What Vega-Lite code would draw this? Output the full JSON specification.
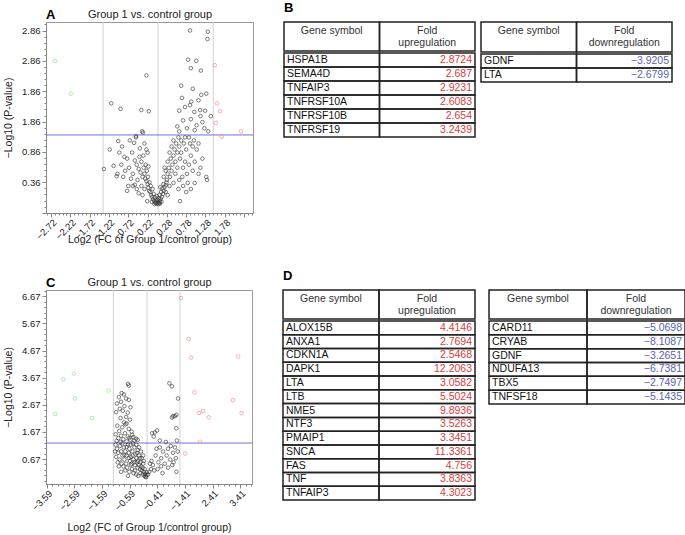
{
  "$schema": "https://vega.github.io/schema/vega-lite/v6.json",
  "padding": {"left": 3, "top": 2, "right": 0, "bottom": 0},
  "background": "white",
  "config": {
    "font": "Liberation Sans",
    "view": {"stroke": null},
    "axis": {"labelFontSize": 9.5, "titleFontSize": 10.5, "titleFontWeight": "normal", "domainColor": "#888", "tickColor": "#888", "labelColor": "#222", "titleColor": "#222", "tickSize": 4, "grid": false, "labelOverlap": false, "labelBound": false},
    "title": {"fontSize": 13, "fontWeight": "bold", "anchor": "start", "color": "#000"}
  },
  "datasets": {
    "a_grid": [{"x": -1.37}, {"x": 0.05}, {"x": 1.48}],
    "a_thr": [{"y": 1.14}],
    "c_grid": [{"x": -1.18}, {"x": 0.04}, {"x": 1.23}],
    "c_thr": [{"y": 1.26}],
    "a_pts": [
      {"x": -0.02, "y": 0.02, "g": "n"}, {"x": 0.02, "y": 0.01, "g": "n"}, {"x": 0.05, "y": 0.03, "g": "n"}, {"x": 0.08, "y": 0.02, "g": "n"}, {"x": -0.05, "y": 0.05, "g": "n"}, {"x": 0.0, "y": 0.06, "g": "n"}, {"x": 0.04, "y": 0.07, "g": "n"}, {"x": 0.1, "y": 0.05, "g": "n"}, {"x": -0.08, "y": 0.08, "g": "n"}, {"x": 0.07, "y": 0.1, "g": "n"},
      {"x": 0.12, "y": 0.09, "g": "n"}, {"x": -0.1, "y": 0.12, "g": "n"}, {"x": -0.03, "y": 0.11, "g": "n"}, {"x": 0.02, "y": 0.13, "g": "n"}, {"x": 0.15, "y": 0.12, "g": "n"}, {"x": -0.13, "y": 0.15, "g": "n"}, {"x": 0.09, "y": 0.15, "g": "n"}, {"x": -0.06, "y": 0.17, "g": "n"}, {"x": 0.18, "y": 0.17, "g": "n"}, {"x": -0.15, "y": 0.2, "g": "n"},
      {"x": 0.13, "y": 0.2, "g": "n"}, {"x": 0.0, "y": 0.03, "g": "n"}, {"x": 0.06, "y": 0.0, "g": "n"}, {"x": -0.04, "y": 0.0, "g": "n"}, {"x": 0.1, "y": 0.01, "g": "n"}, {"x": -0.11, "y": 0.04, "g": "n"}, {"x": 0.14, "y": 0.04, "g": "n"}, {"x": -0.18, "y": 0.22, "g": "n"}, {"x": 0.2, "y": 0.22, "g": "n"}, {"x": -0.09, "y": 0.25, "g": "n"},
      {"x": 0.16, "y": 0.26, "g": "n"}, {"x": -0.2, "y": 0.27, "g": "n"}, {"x": 0.22, "y": 0.28, "g": "n"}, {"x": -0.14, "y": 0.3, "g": "n"}, {"x": 0.25, "y": 0.31, "g": "n"}, {"x": 0.19, "y": 0.33, "g": "n"}, {"x": -0.22, "y": 0.33, "g": "n"}, {"x": 0.11, "y": 0.28, "g": "n"}, {"x": -0.17, "y": 0.36, "g": "n"}, {"x": 0.27, "y": 0.36, "g": "n"},
      {"x": -0.25, "y": 0.38, "g": "n"}, {"x": -0.28, "y": 0.42, "g": "n"}, {"x": -0.21, "y": 0.45, "g": "n"}, {"x": -0.3, "y": 0.5, "g": "n"}, {"x": -0.35, "y": 0.45, "g": "n"}, {"x": -0.24, "y": 0.55, "g": "n"}, {"x": -0.4, "y": 0.52, "g": "n"}, {"x": -0.32, "y": 0.6, "g": "n"}, {"x": -0.45, "y": 0.58, "g": "n"}, {"x": -0.27, "y": 0.65, "g": "n"},
      {"x": -0.38, "y": 0.7, "g": "n"}, {"x": -0.5, "y": 0.65, "g": "n"}, {"x": -0.43, "y": 0.78, "g": "n"}, {"x": -0.55, "y": 0.72, "g": "n"}, {"x": -0.33, "y": 0.8, "g": "n"}, {"x": -0.6, "y": 0.5, "g": "n"}, {"x": -0.48, "y": 0.4, "g": "n"}, {"x": -0.38, "y": 0.3, "g": "n"}, {"x": -0.3, "y": 0.25, "g": "n"}, {"x": -0.55, "y": 0.32, "g": "n"},
      {"x": -0.65, "y": 0.42, "g": "n"}, {"x": -0.7, "y": 0.6, "g": "n"}, {"x": -0.62, "y": 0.85, "g": "n"}, {"x": -0.75, "y": 0.75, "g": "n"}, {"x": -0.8, "y": 0.55, "g": "n"}, {"x": -0.72, "y": 0.3, "g": "n"}, {"x": -0.85, "y": 0.45, "g": "n"}, {"x": -0.9, "y": 0.65, "g": "n"}, {"x": -0.82, "y": 0.78, "g": "n"}, {"x": -0.95, "y": 0.85, "g": "n"},
      {"x": -1.0, "y": 0.5, "g": "n"}, {"x": -1.02, "y": 0.46, "g": "n"}, {"x": -1.1, "y": 0.63, "g": "n"}, {"x": -0.98, "y": 1.04, "g": "n"}, {"x": -0.57, "y": 1.01, "g": "n"}, {"x": -0.52, "y": 1.12, "g": "n"}, {"x": -0.36, "y": 1.2, "g": "n"}, {"x": -0.25, "y": 0.9, "g": "n"}, {"x": -0.22, "y": 0.85, "g": "n"}, {"x": -0.3, "y": 1.0, "g": "n"},
      {"x": -0.6, "y": 0.3, "g": "n"}, {"x": -0.75, "y": 0.22, "g": "n"}, {"x": -0.45, "y": 0.18, "g": "n"}, {"x": -0.23, "y": 0.05, "g": "n"}, {"x": -1.35, "y": 0.58, "g": "n"}, {"x": -1.2, "y": 0.9, "g": "n"}, {"x": -0.88, "y": 0.95, "g": "n"}, {"x": -0.68, "y": 1.05, "g": "n"}, {"x": -0.42, "y": 0.92, "g": "n"}, {"x": -0.2, "y": 0.62, "g": "n"},
      {"x": -0.5, "y": 0.25, "g": "n"}, {"x": -0.35, "y": 0.15, "g": "n"},
      {"x": 0.28, "y": 0.4, "g": "n"}, {"x": 0.3, "y": 0.5, "g": "n"}, {"x": 0.25, "y": 0.55, "g": "n"}, {"x": 0.33, "y": 0.6, "g": "n"}, {"x": 0.36, "y": 0.45, "g": "n"}, {"x": 0.4, "y": 0.55, "g": "n"}, {"x": 0.3, "y": 0.7, "g": "n"}, {"x": 0.38, "y": 0.75, "g": "n"}, {"x": 0.42, "y": 0.65, "g": "n"}, {"x": 0.45, "y": 0.8, "g": "n"},
      {"x": 0.35, "y": 0.85, "g": "n"}, {"x": 0.48, "y": 0.9, "g": "n"}, {"x": 0.4, "y": 0.95, "g": "n"}, {"x": 0.5, "y": 0.7, "g": "n"}, {"x": 0.52, "y": 1.0, "g": "n"}, {"x": 0.45, "y": 1.05, "g": "n"}, {"x": 0.55, "y": 0.85, "g": "n"}, {"x": 0.58, "y": 1.1, "g": "n"}, {"x": 0.6, "y": 0.95, "g": "n"}, {"x": 0.5, "y": 0.5, "g": "n"},
      {"x": 0.55, "y": 0.6, "g": "n"}, {"x": 0.62, "y": 0.75, "g": "n"}, {"x": 0.65, "y": 0.85, "g": "n"}, {"x": 0.7, "y": 0.6, "g": "n"}, {"x": 0.68, "y": 0.45, "g": "n"}, {"x": 0.6, "y": 0.4, "g": "n"}, {"x": 0.75, "y": 0.7, "g": "n"}, {"x": 0.78, "y": 0.9, "g": "n"}, {"x": 0.72, "y": 1.0, "g": "n"}, {"x": 0.8, "y": 0.5, "g": "n"},
      {"x": 0.85, "y": 0.65, "g": "n"}, {"x": 0.9, "y": 0.8, "g": "n"}, {"x": 0.82, "y": 0.35, "g": "n"}, {"x": 0.95, "y": 0.55, "g": "n"}, {"x": 1.0, "y": 0.7, "g": "n"}, {"x": 1.05, "y": 0.9, "g": "n"}, {"x": 0.98, "y": 1.05, "g": "n"}, {"x": 1.1, "y": 0.5, "g": "n"}, {"x": 1.15, "y": 0.6, "g": "n"}, {"x": 1.2, "y": 0.75, "g": "n"},
      {"x": 1.3, "y": 0.45, "g": "n"}, {"x": 1.32, "y": 0.4, "g": "n"}, {"x": 0.7, "y": 0.3, "g": "n"}, {"x": 0.58, "y": 0.25, "g": "n"}, {"x": 0.45, "y": 0.35, "g": "n"}, {"x": 0.35, "y": 0.3, "g": "n"}, {"x": 0.25, "y": 0.2, "g": "n"}, {"x": 0.3, "y": 0.15, "g": "n"}, {"x": 0.9, "y": 0.25, "g": "n"}, {"x": 1.0, "y": 0.35, "g": "n"},
      {"x": 0.2, "y": 0.45, "g": "n"}, {"x": 0.22, "y": 0.6, "g": "n"}, {"x": 0.65, "y": 1.05, "g": "n"}, {"x": 0.75, "y": 1.1, "g": "n"}, {"x": 0.88, "y": 1.0, "g": "n"}, {"x": 0.78, "y": 0.2, "g": "n"}, {"x": 0.62, "y": 0.05, "g": "n"}, {"x": 1.1, "y": 1.0, "g": "n"}, {"x": 0.95, "y": 0.95, "g": "n"}, {"x": 0.85, "y": 1.1, "g": "n"},
      {"x": 0.88, "y": 2.86, "g": "n"}, {"x": 1.34, "y": 2.84, "g": "n"}, {"x": 1.33, "y": 2.72, "g": "n"}, {"x": 0.83, "y": 2.38, "g": "n"}, {"x": 1.04, "y": 2.36, "g": "n"}, {"x": 0.9, "y": 2.24, "g": "n"}, {"x": 1.16, "y": 2.2, "g": "n"}, {"x": 0.67, "y": 1.75, "g": "n"}, {"x": 0.91, "y": 1.69, "g": "n"}, {"x": 1.1, "y": 1.71, "g": "n"},
      {"x": 1.17, "y": 1.8, "g": "n"}, {"x": 1.3, "y": 1.82, "g": "n"}, {"x": 0.6, "y": 1.54, "g": "n"}, {"x": 0.88, "y": 1.63, "g": "n"}, {"x": 0.99, "y": 1.52, "g": "n"}, {"x": 1.14, "y": 1.55, "g": "n"}, {"x": 1.27, "y": 1.54, "g": "n"}, {"x": 1.42, "y": 1.45, "g": "n"}, {"x": 0.65, "y": 1.95, "g": "n"}, {"x": 0.95, "y": 1.9, "g": "n"},
      {"x": 1.2, "y": 1.35, "g": "n"}, {"x": 1.05, "y": 1.3, "g": "n"}, {"x": 0.8, "y": 1.25, "g": "n"}, {"x": 0.7, "y": 1.38, "g": "n"}, {"x": 0.55, "y": 1.28, "g": "n"}, {"x": 1.35, "y": 1.2, "g": "n"}, {"x": 0.9, "y": 1.4, "g": "n"}, {"x": 1.25, "y": 1.25, "g": "n"}, {"x": 0.75, "y": 1.6, "g": "n"}, {"x": 1.15, "y": 1.45, "g": "n"},
      {"x": 0.6, "y": 1.2, "g": "n"}, {"x": 1.0, "y": 1.22, "g": "n"},
      {"x": -0.25, "y": 2.12, "g": "n"}, {"x": -1.16, "y": 1.66, "g": "n"}, {"x": -0.92, "y": 1.57, "g": "n"}, {"x": -0.38, "y": 1.55, "g": "n"}, {"x": -0.19, "y": 1.53, "g": "n"}, {"x": -0.34, "y": 1.18, "g": "n"}, {"x": -0.52, "y": 1.1, "g": "n"},
      {"x": -2.62, "y": 2.36, "g": "down"}, {"x": -2.21, "y": 1.82, "g": "down"},
      {"x": 1.52, "y": 2.29, "g": "up"}, {"x": 1.58, "y": 1.66, "g": "up"}, {"x": 1.66, "y": 1.53, "g": "up"}, {"x": 1.55, "y": 1.34, "g": "up"}, {"x": 1.7, "y": 1.11, "g": "up"}, {"x": 2.2, "y": 1.2, "g": "up"}
    ],
    "c_pts": [
      {"x": -0.65, "y": 3.44, "g": "n"}, {"x": -0.62, "y": 3.38, "g": "n"}, {"x": -0.88, "y": 3.1, "g": "n"}, {"x": -0.8, "y": 3.05, "g": "n"}, {"x": -0.98, "y": 2.95, "g": "n"}, {"x": -0.72, "y": 2.9, "g": "n"}, {"x": -0.9, "y": 2.78, "g": "n"}, {"x": -1.05, "y": 2.72, "g": "n"}, {"x": -0.62, "y": 2.85, "g": "n"}, {"x": -0.78, "y": 2.62, "g": "n"},
      {"x": -0.56, "y": 2.58, "g": "n"}, {"x": -0.95, "y": 2.52, "g": "n"}, {"x": -0.84, "y": 2.45, "g": "n"}, {"x": -1.08, "y": 2.4, "g": "n"}, {"x": -0.66, "y": 2.38, "g": "n"}, {"x": -0.72, "y": 2.22, "g": "n"}, {"x": -0.92, "y": 2.18, "g": "n"}, {"x": -0.58, "y": 2.12, "g": "n"}, {"x": -0.8, "y": 2.02, "g": "n"}, {"x": -0.7, "y": 1.98, "g": "n"},
      {"x": -0.74, "y": 1.95, "g": "n"}, {"x": -1.04, "y": 1.9, "g": "n"}, {"x": -0.86, "y": 1.84, "g": "n"}, {"x": -0.62, "y": 1.78, "g": "n"}, {"x": -0.97, "y": 1.7, "g": "n"}, {"x": -0.52, "y": 1.68, "g": "n"}, {"x": -0.76, "y": 1.62, "g": "n"}, {"x": -1.1, "y": 1.58, "g": "n"}, {"x": -0.9, "y": 1.53, "g": "n"}, {"x": -0.66, "y": 1.5, "g": "n"},
      {"x": -0.46, "y": 1.48, "g": "n"}, {"x": -1.0, "y": 1.44, "g": "n"}, {"x": -0.82, "y": 1.4, "g": "n"}, {"x": -0.56, "y": 1.38, "g": "n"}, {"x": -1.06, "y": 1.34, "g": "n"}, {"x": -0.7, "y": 1.32, "g": "n"}, {"x": -0.92, "y": 1.3, "g": "n"}, {"x": -0.42, "y": 1.35, "g": "n"}, {"x": -0.6, "y": 1.45, "g": "n"}, {"x": -0.5, "y": 1.56, "g": "n"},
      {"x": -0.36, "y": 1.42, "g": "n"}, {"x": -0.3, "y": 1.38, "g": "n"},
      {"x": -1.1, "y": 1.2, "g": "n"}, {"x": -1.05, "y": 1.05, "g": "n"}, {"x": -1.0, "y": 0.9, "g": "n"}, {"x": -1.08, "y": 0.75, "g": "n"}, {"x": -0.95, "y": 1.15, "g": "n"}, {"x": -0.9, "y": 0.95, "g": "n"}, {"x": -0.85, "y": 0.8, "g": "n"}, {"x": -0.95, "y": 0.65, "g": "n"}, {"x": -1.02, "y": 0.55, "g": "n"}, {"x": -0.88, "y": 0.5, "g": "n"},
      {"x": -0.8, "y": 1.1, "g": "n"}, {"x": -0.75, "y": 0.95, "g": "n"}, {"x": -0.7, "y": 0.8, "g": "n"}, {"x": -0.78, "y": 0.65, "g": "n"}, {"x": -0.82, "y": 0.4, "g": "n"}, {"x": -0.72, "y": 0.5, "g": "n"}, {"x": -0.65, "y": 1.2, "g": "n"}, {"x": -0.6, "y": 1.05, "g": "n"}, {"x": -0.62, "y": 0.9, "g": "n"}, {"x": -0.55, "y": 0.75, "g": "n"},
      {"x": -0.68, "y": 0.35, "g": "n"}, {"x": -0.58, "y": 0.6, "g": "n"}, {"x": -0.5, "y": 0.95, "g": "n"}, {"x": -0.48, "y": 0.8, "g": "n"}, {"x": -0.52, "y": 0.5, "g": "n"}, {"x": -0.45, "y": 0.65, "g": "n"}, {"x": -0.42, "y": 1.1, "g": "n"}, {"x": -0.4, "y": 0.45, "g": "n"}, {"x": -0.38, "y": 0.85, "g": "n"}, {"x": -0.35, "y": 0.7, "g": "n"},
      {"x": -0.33, "y": 0.55, "g": "n"}, {"x": -0.3, "y": 1.0, "g": "n"}, {"x": -0.3, "y": 0.35, "g": "n"}, {"x": -0.28, "y": 0.6, "g": "n"}, {"x": -0.25, "y": 0.8, "g": "n"}, {"x": -0.25, "y": 0.45, "g": "n"}, {"x": -0.22, "y": 0.3, "g": "n"}, {"x": -0.2, "y": 0.55, "g": "n"}, {"x": -0.2, "y": 0.15, "g": "n"}, {"x": -0.18, "y": 0.4, "g": "n"},
      {"x": -0.15, "y": 0.25, "g": "n"}, {"x": -0.15, "y": 0.7, "g": "n"}, {"x": -0.12, "y": 0.1, "g": "n"}, {"x": -0.12, "y": 0.35, "g": "n"}, {"x": -0.1, "y": 0.5, "g": "n"}, {"x": -0.08, "y": 0.2, "g": "n"}, {"x": -0.06, "y": 0.05, "g": "n"}, {"x": -0.05, "y": 0.3, "g": "n"}, {"x": -0.03, "y": 0.12, "g": "n"}, {"x": -0.02, "y": 0.02, "g": "n"},
      {"x": 0.0, "y": 0.0, "g": "n"}, {"x": 0.02, "y": 0.08, "g": "n"}, {"x": 0.03, "y": 0.18, "g": "n"}, {"x": -0.4, "y": 0.25, "g": "n"}, {"x": -0.5, "y": 0.3, "g": "n"}, {"x": -0.6, "y": 0.2, "g": "n"}, {"x": -0.45, "y": 0.15, "g": "n"}, {"x": -0.35, "y": 0.1, "g": "n"}, {"x": -0.28, "y": 0.05, "g": "n"}, {"x": -0.55, "y": 1.2, "g": "n"},
      {"x": -0.47, "y": 1.25, "g": "n"}, {"x": -0.35, "y": 1.2, "g": "n"}, {"x": -0.25, "y": 1.1, "g": "n"}, {"x": -0.85, "y": 1.25, "g": "n"}, {"x": -1.12, "y": 0.95, "g": "n"}, {"x": -0.98, "y": 0.4, "g": "n"}, {"x": -0.75, "y": 0.25, "g": "n"}, {"x": -0.65, "y": 0.05, "g": "n"}, {"x": -0.9, "y": 0.2, "g": "n"}, {"x": -0.7, "y": 1.12, "g": "n"},
      {"x": -0.62, "y": 0.7, "g": "n"}, {"x": -0.42, "y": 0.55, "g": "n"}, {"x": -0.32, "y": 0.9, "g": "n"}, {"x": -0.18, "y": 0.95, "g": "n"}, {"x": -0.1, "y": 0.8, "g": "n"}, {"x": -0.08, "y": 0.6, "g": "n"}, {"x": -0.22, "y": 0.7, "g": "n"}, {"x": -0.55, "y": 0.45, "g": "n"}, {"x": -0.78, "y": 0.82, "g": "n"},
      {"x": 0.85, "y": 3.46, "g": "n"}, {"x": 0.94, "y": 3.35, "g": "n"}, {"x": 1.16, "y": 2.9, "g": "n"}, {"x": 1.1, "y": 2.3, "g": "n"}, {"x": 1.05, "y": 2.25, "g": "n"}, {"x": 0.98, "y": 2.25, "g": "n"}, {"x": 0.94, "y": 2.2, "g": "n"}, {"x": 1.1, "y": 1.8, "g": "n"}, {"x": 0.4, "y": 1.72, "g": "n"}, {"x": 0.32, "y": 1.65, "g": "n"},
      {"x": 0.22, "y": 1.62, "g": "n"}, {"x": 0.28, "y": 1.5, "g": "n"}, {"x": 0.5, "y": 1.35, "g": "n"}, {"x": 0.72, "y": 1.3, "g": "n"}, {"x": 1.12, "y": 1.35, "g": "n"}, {"x": 1.05, "y": 1.1, "g": "n"}, {"x": 0.98, "y": 0.9, "g": "n"}, {"x": 1.08, "y": 0.7, "g": "n"}, {"x": 0.88, "y": 0.65, "g": "n"}, {"x": 0.75, "y": 0.8, "g": "n"},
      {"x": 0.62, "y": 0.95, "g": "n"}, {"x": 0.55, "y": 0.7, "g": "n"}, {"x": 0.45, "y": 0.55, "g": "n"}, {"x": 0.35, "y": 0.8, "g": "n"}, {"x": 0.25, "y": 0.45, "g": "n"}, {"x": 0.18, "y": 0.3, "g": "n"}, {"x": 0.12, "y": 0.2, "g": "n"}, {"x": 0.08, "y": 0.1, "g": "n"}, {"x": 0.3, "y": 0.25, "g": "n"}, {"x": 0.42, "y": 0.3, "g": "n"},
      {"x": 0.55, "y": 0.4, "g": "n"}, {"x": 0.68, "y": 0.5, "g": "n"}, {"x": 0.8, "y": 0.35, "g": "n"}, {"x": 0.95, "y": 0.45, "g": "n"}, {"x": 1.1, "y": 0.2, "g": "n"}, {"x": 1.0, "y": 0.55, "g": "n"}, {"x": 0.6, "y": 0.15, "g": "n"}, {"x": 0.2, "y": 0.6, "g": "n"}, {"x": 0.15, "y": 0.5, "g": "n"}, {"x": 0.38, "y": 1.05, "g": "n"},
      {"x": 0.8, "y": 1.05, "g": "n"}, {"x": 0.5, "y": 1.1, "g": "n"}, {"x": 1.15, "y": 0.95, "g": "n"}, {"x": 0.9, "y": 1.15, "g": "n"},
      {"x": -3.28, "y": 2.33, "g": "down"}, {"x": -2.99, "y": 3.61, "g": "down"}, {"x": -2.61, "y": 3.82, "g": "down"}, {"x": -2.57, "y": 2.9, "g": "down"}, {"x": -1.95, "y": 2.18, "g": "down"}, {"x": -1.36, "y": 3.19, "g": "down"},
      {"x": 1.27, "y": 6.6, "g": "up"}, {"x": 1.55, "y": 5.09, "g": "up"}, {"x": 1.63, "y": 4.41, "g": "up"}, {"x": 3.34, "y": 4.45, "g": "up"}, {"x": 1.76, "y": 3.13, "g": "up"}, {"x": 3.15, "y": 2.84, "g": "up"}, {"x": 3.46, "y": 2.36, "g": "up"}, {"x": 1.92, "y": 2.37, "g": "up"}, {"x": 2.07, "y": 2.44, "g": "up"}, {"x": 2.27, "y": 2.21, "g": "up"},
      {"x": 1.96, "y": 1.31, "g": "up"}, {"x": 1.42, "y": 0.87, "g": "up"}
    ],
    "b_up": [
      {"gene": "HSPA1B", "fold": 2.8724}, {"gene": "SEMA4D", "fold": 2.687}, {"gene": "TNFAIP3", "fold": 2.9231}, {"gene": "TNFRSF10A", "fold": 2.6083}, {"gene": "TNFRSF10B", "fold": 2.654}, {"gene": "TNFRSF19", "fold": 3.2439}
    ],
    "b_down": [
      {"gene": "GDNF", "fold": -3.9205}, {"gene": "LTA", "fold": -2.6799}
    ],
    "d_up": [
      {"gene": "ALOX15B", "fold": 4.4146}, {"gene": "ANXA1", "fold": 2.7694}, {"gene": "CDKN1A", "fold": 2.5468}, {"gene": "DAPK1", "fold": 12.2063}, {"gene": "LTA", "fold": 3.0582}, {"gene": "LTB", "fold": 5.5024}, {"gene": "NME5", "fold": 9.8936}, {"gene": "NTF3", "fold": 3.5263}, {"gene": "PMAIP1", "fold": 3.3451}, {"gene": "SNCA", "fold": 11.3361}, {"gene": "FAS", "fold": 4.756}, {"gene": "TNF", "fold": 3.8363}, {"gene": "TNFAIP3", "fold": 4.3023}
    ],
    "d_down": [
      {"gene": "CARD11", "fold": -5.0698}, {"gene": "CRYAB", "fold": -8.1087}, {"gene": "GDNF", "fold": -3.2651}, {"gene": "NDUFA13", "fold": -6.7381}, {"gene": "TBX5", "fold": -2.7497}, {"gene": "TNFSF18", "fold": -5.1435}
    ],
    "h_up": [{"col": "g", "label": "Gene symbol"}, {"col": "f", "label": "Fold\nupregulation"}],
    "h_down": [{"col": "g", "label": "Gene symbol"}, {"col": "f", "label": "Fold\ndownregulation"}]
  },
  "vconcat": [
    {
      "hconcat": [
        {
          "title": {"text": "A", "frame": "group", "dy": 14, "offset": 0},
          "width": 207, "height": 191,
          "view": {"stroke": "#9a9a9a"},
          "resolve": {"axis": {"x": "independent"}},
          "layer": [
            {"data": {"name": "a_grid"}, "mark": {"type": "rule", "color": "#d3d3d3", "strokeWidth": 1},
             "encoding": {"x": {"field": "x", "type": "quantitative", "scale": {"domain": [-2.85, 2.51], "nice": false, "zero": false},
               "axis": {"orient": "top", "title": "Group 1 vs. control group", "labels": false, "ticks": false, "domain": false, "titlePadding": 3, "titleFontSize": 11}}}},
            {"data": {"name": "a_thr"}, "mark": {"type": "rule", "color": "#7373d9", "strokeWidth": 1},
             "encoding": {"y": {"field": "y", "type": "quantitative", "axis": {"labelOverlap": false, "values": [-0.14, -0.04, 0.06, 0.16, 0.26, 0.36, 0.46, 0.56, 0.66, 0.76, 0.86, 0.96, 1.06, 1.16, 1.26, 1.36, 1.46, 1.56, 1.66, 1.76, 1.86, 1.96, 2.06, 2.16, 2.26, 2.36, 2.46, 2.56, 2.66, 2.76, 2.86, 2.96]}}}},
            {"data": {"name": "a_pts"}, "mark": {"type": "point", "shape": "circle", "filled": false, "size": 13, "strokeWidth": 0.7, "opacity": 0.9},
             "encoding": {
               "x": {"field": "x", "type": "quantitative", "axis": {"orient": "bottom", "title": "Log2 (FC of Group 1/control group)",
                 "values": [-2.82, -2.72, -2.62, -2.52, -2.42, -2.32, -2.22, -2.12, -2.02, -1.92, -1.82, -1.72, -1.62, -1.52, -1.42, -1.32, -1.22, -1.12, -1.02, -0.92, -0.82, -0.72, -0.62, -0.52, -0.42, -0.32, -0.22, -0.12, -0.02, 0.08, 0.18, 0.28, 0.38, 0.48, 0.58, 0.68, 0.78, 0.88, 0.98, 1.08, 1.18, 1.28, 1.38, 1.48, 1.58, 1.68, 1.78, 1.88, 1.98, 2.08, 2.18, 2.28, 2.38, 2.48],
                 "labelExpr": "abs((datum.value+2.72)*2 - round((datum.value+2.72)*2)) < 0.01 && datum.value > -2.8 && datum.value < 1.9 ? format(datum.value, '.2f') : ''",
                 "tickSize": {"condition": {"test": "abs((datum.value+2.72)*2 - round((datum.value+2.72)*2)) < 0.01", "value": 4}, "value": 2},
                 "labelAngle": -45, "labelPadding": 0, "titlePadding": -6, "labelOverlap": false}},
               "y": {"field": "y", "type": "quantitative", "scale": {"domain": [-0.145, 3.0], "nice": false, "zero": false},
                 "axis": {"title": "−Log10 (P-value)",
                   "values": [-0.14, -0.04, 0.06, 0.16, 0.26, 0.36, 0.46, 0.56, 0.66, 0.76, 0.86, 0.96, 1.06, 1.16, 1.26, 1.36, 1.46, 1.56, 1.66, 1.76, 1.86, 1.96, 2.06, 2.16, 2.26, 2.36, 2.46, 2.56, 2.66, 2.76, 2.86, 2.96],
                   "labelExpr": "abs((datum.value-0.36)*2 - round((datum.value-0.36)*2)) < 0.01 && datum.value > 0.3 ? (abs(datum.value-1.36)<0.01 ? '1.86' : abs(datum.value-2.36)<0.01 ? '2.86' : format(datum.value, '.2f')) : ''",
                   "tickSize": {"condition": {"test": "abs((datum.value-0.36)*2 - round((datum.value-0.36)*2)) < 0.01", "value": 4}, "value": 2},
                   "titlePadding": 8, "labelOverlap": false}},
               "color": {"field": "g", "type": "nominal", "scale": {"domain": ["n", "up", "down"], "range": ["#333333", "#ef8585", "#86dc86"]}, "legend": null}
             }}
          ]
        },
        {
          "title": {"text": "B", "frame": "group", "offset": 6},
          "spacing": 4,
          "hconcat": [
            {"spacing": 0, "vconcat": [
              {"data": {"name": "h_up"}, "width": 191, "height": 29, "layer": [
                {"mark": {"type": "rect", "fillOpacity": 0, "stroke": "#222", "strokeWidth": 1.5},
                 "encoding": {"x": {"field": "col", "type": "nominal", "sort": null, "scale": {"domain": ["g", "f"], "paddingInner": 0, "paddingOuter": 0}, "axis": null}}},
                {"mark": {"type": "text", "lineBreak": "\n", "fontSize": 10.5, "color": "#333", "lineHeight": 12, "dy": -6},
                 "encoding": {"x": {"field": "col", "type": "nominal", "sort": null, "axis": null}, "text": {"field": "label", "type": "nominal"}}}
              ]},
              {"data": {"name": "b_up"}, "width": 191, "height": 84, "layer": [
                {"mark": {"type": "rect", "fillOpacity": 0, "stroke": "#222", "strokeWidth": 1.5},
                 "encoding": {"x": {"datum": "g", "type": "nominal", "scale": {"domain": ["g", "f"], "paddingInner": 0, "paddingOuter": 0}, "axis": null},
                   "y": {"field": "gene", "type": "nominal", "sort": null, "scale": {"paddingInner": 0, "paddingOuter": 0}, "axis": null}}},
                {"mark": {"type": "rect", "fillOpacity": 0, "stroke": "#222", "strokeWidth": 1.5},
                 "encoding": {"x": {"datum": "f", "type": "nominal"}, "y": {"field": "gene", "type": "nominal", "sort": null}}},
                {"mark": {"type": "text", "align": "left", "dx": 3, "fontSize": 10.5, "color": "#111"},
                 "encoding": {"x": {"datum": "g", "type": "nominal", "bandPosition": 0}, "y": {"field": "gene", "type": "nominal", "sort": null}, "text": {"field": "gene", "type": "nominal"}}},
                {"mark": {"type": "text", "align": "right", "dx": -3, "fontSize": 10.5, "color": "#d83c3c"},
                 "encoding": {"x": {"datum": "f", "type": "nominal", "bandPosition": 1}, "y": {"field": "gene", "type": "nominal", "sort": null}, "text": {"field": "fold", "type": "quantitative", "format": "~r"}}}
              ]}
            ]},
            {"spacing": 0, "vconcat": [
              {"data": {"name": "h_down"}, "width": 191, "height": 30, "layer": [
                {"mark": {"type": "rect", "fillOpacity": 0, "stroke": "#222", "strokeWidth": 1.5},
                 "encoding": {"x": {"field": "col", "type": "nominal", "sort": null, "scale": {"domain": ["g", "f"], "paddingInner": 0, "paddingOuter": 0}, "axis": null}}},
                {"mark": {"type": "text", "lineBreak": "\n", "fontSize": 10.5, "color": "#333", "lineHeight": 12, "dy": -6},
                 "encoding": {"x": {"field": "col", "type": "nominal", "sort": null, "axis": null}, "text": {"field": "label", "type": "nominal"}}}
              ]},
              {"data": {"name": "b_down"}, "width": 191, "height": 28, "layer": [
                {"mark": {"type": "rect", "fillOpacity": 0, "stroke": "#222", "strokeWidth": 1.5},
                 "encoding": {"x": {"datum": "g", "type": "nominal", "scale": {"domain": ["g", "f"], "paddingInner": 0, "paddingOuter": 0}, "axis": null},
                   "y": {"field": "gene", "type": "nominal", "sort": null, "scale": {"paddingInner": 0, "paddingOuter": 0}, "axis": null}}},
                {"mark": {"type": "rect", "fillOpacity": 0, "stroke": "#222", "strokeWidth": 1.5},
                 "encoding": {"x": {"datum": "f", "type": "nominal"}, "y": {"field": "gene", "type": "nominal", "sort": null}}},
                {"mark": {"type": "text", "align": "left", "dx": 3, "fontSize": 10.5, "color": "#111"},
                 "encoding": {"x": {"datum": "g", "type": "nominal", "bandPosition": 0}, "y": {"field": "gene", "type": "nominal", "sort": null}, "text": {"field": "gene", "type": "nominal"}}},
                {"mark": {"type": "text", "align": "right", "dx": -3, "fontSize": 10.5, "color": "#5b5fb5"},
                 "encoding": {"x": {"datum": "f", "type": "nominal", "bandPosition": 1}, "y": {"field": "gene", "type": "nominal", "sort": null}, "text": {"field": "fold", "type": "quantitative", "format": "~r"}}}
              ]}
            ]}
          ]
        }
      ],
      "spacing": 23
    },
    {
      "hconcat": [
        {
          "title": {"text": "C", "frame": "group", "dy": 14, "offset": 0},
          "width": 206, "height": 194,
          "view": {"stroke": "#9a9a9a"},
          "resolve": {"axis": {"x": "independent"}},
          "layer": [
            {"data": {"name": "c_grid"}, "mark": {"type": "rule", "color": "#d3d3d3", "strokeWidth": 1},
             "encoding": {"x": {"field": "x", "type": "quantitative", "scale": {"domain": [-3.62, 3.84], "nice": false, "zero": false},
               "axis": {"orient": "top", "title": "Group 1 vs. control group", "labels": false, "ticks": false, "domain": false, "titlePadding": 3, "titleFontSize": 11}}}},
            {"data": {"name": "c_thr"}, "mark": {"type": "rule", "color": "#7373d9", "strokeWidth": 1},
             "encoding": {"y": {"field": "y", "type": "quantitative", "axis": {"labelOverlap": false, "values": [-0.13, 0.07, 0.27, 0.47, 0.67, 0.87, 1.07, 1.27, 1.47, 1.67, 1.87, 2.07, 2.27, 2.47, 2.67, 2.87, 3.07, 3.27, 3.47, 3.67, 3.87, 4.07, 4.27, 4.47, 4.67, 4.87, 5.07, 5.27, 5.47, 5.67, 5.87, 6.07, 6.27, 6.47, 6.67, 6.87]}}}},
            {"data": {"name": "c_pts"}, "mark": {"type": "point", "shape": "circle", "filled": false, "size": 13, "strokeWidth": 0.7, "opacity": 0.9},
             "encoding": {
               "x": {"field": "x", "type": "quantitative", "axis": {"orient": "bottom", "title": "Log2 (FC of Group 1/control group)",
                 "values": [-3.59, -3.39, -3.19, -2.99, -2.79, -2.59, -2.39, -2.19, -1.99, -1.79, -1.59, -1.39, -1.19, -0.99, -0.79, -0.59, -0.39, -0.19, 0.01, 0.21, 0.41, 0.61, 0.81, 1.01, 1.21, 1.41, 1.61, 1.81, 2.01, 2.21, 2.41, 2.61, 2.81, 3.01, 3.21, 3.41, 3.61, 3.81],
                 "labelExpr": "abs((datum.value+3.59) - round(datum.value+3.59)) < 0.01 ? (abs(datum.value-0.41)<0.01 ? '−0.41' : abs(datum.value-1.41)<0.01 ? '−1.41' : format(datum.value, '.2f')) : ''",
                 "tickSize": {"condition": {"test": "abs((datum.value+3.59) - round(datum.value+3.59)) < 0.01", "value": 4}, "value": 2},
                 "labelAngle": -45, "labelPadding": 0, "titlePadding": 11, "labelOverlap": false}},
               "y": {"field": "y", "type": "quantitative", "scale": {"domain": [-0.25, 6.9], "nice": false, "zero": false},
                 "axis": {"title": "−Log10 (P-value)",
                   "values": [-0.13, 0.07, 0.27, 0.47, 0.67, 0.87, 1.07, 1.27, 1.47, 1.67, 1.87, 2.07, 2.27, 2.47, 2.67, 2.87, 3.07, 3.27, 3.47, 3.67, 3.87, 4.07, 4.27, 4.47, 4.67, 4.87, 5.07, 5.27, 5.47, 5.67, 5.87, 6.07, 6.27, 6.47, 6.67, 6.87],
                   "labelExpr": "abs((datum.value-0.67) - round(datum.value-0.67)) < 0.01 && datum.value > 0.5 ? format(datum.value, '.2f') : ''",
                   "tickSize": {"condition": {"test": "abs((datum.value-0.67) - round(datum.value-0.67)) < 0.01 && datum.value > 0.5", "value": 4}, "value": 2},
                   "titlePadding": 8, "labelOverlap": false}},
               "color": {"field": "g", "type": "nominal", "scale": {"domain": ["n", "up", "down"], "range": ["#333333", "#ef8585", "#86dc86"]}, "legend": null}
             }}
          ]
        },
        {
          "title": {"text": "D", "frame": "group", "offset": 6},
          "spacing": 12,
          "hconcat": [
            {"spacing": 0, "vconcat": [
              {"data": {"name": "h_up"}, "width": 192, "height": 29, "layer": [
                {"mark": {"type": "rect", "fillOpacity": 0, "stroke": "#222", "strokeWidth": 1.5},
                 "encoding": {"x": {"field": "col", "type": "nominal", "sort": null, "scale": {"domain": ["g", "f"], "paddingInner": 0, "paddingOuter": 0}, "axis": null}}},
                {"mark": {"type": "text", "lineBreak": "\n", "fontSize": 10.5, "color": "#333", "lineHeight": 12, "dy": -6},
                 "encoding": {"x": {"field": "col", "type": "nominal", "sort": null, "axis": null}, "text": {"field": "label", "type": "nominal"}}}
              ]},
              {"data": {"name": "d_up"}, "width": 192, "height": 179, "layer": [
                {"mark": {"type": "rect", "fillOpacity": 0, "stroke": "#222", "strokeWidth": 1.5},
                 "encoding": {"x": {"datum": "g", "type": "nominal", "scale": {"domain": ["g", "f"], "paddingInner": 0, "paddingOuter": 0}, "axis": null},
                   "y": {"field": "gene", "type": "nominal", "sort": null, "scale": {"paddingInner": 0, "paddingOuter": 0}, "axis": null}}},
                {"mark": {"type": "rect", "fillOpacity": 0, "stroke": "#222", "strokeWidth": 1.5},
                 "encoding": {"x": {"datum": "f", "type": "nominal"}, "y": {"field": "gene", "type": "nominal", "sort": null}}},
                {"mark": {"type": "text", "align": "left", "dx": 3, "fontSize": 10.5, "color": "#111"},
                 "encoding": {"x": {"datum": "g", "type": "nominal", "bandPosition": 0}, "y": {"field": "gene", "type": "nominal", "sort": null}, "text": {"field": "gene", "type": "nominal"}}},
                {"mark": {"type": "text", "align": "right", "dx": -3, "fontSize": 10.5, "color": "#d83c3c"},
                 "encoding": {"x": {"datum": "f", "type": "nominal", "bandPosition": 1}, "y": {"field": "gene", "type": "nominal", "sort": null}, "text": {"field": "fold", "type": "quantitative", "format": "~r"}}}
              ]}
            ]},
            {"spacing": 0, "vconcat": [
              {"data": {"name": "h_down"}, "width": 196, "height": 29, "layer": [
                {"mark": {"type": "rect", "fillOpacity": 0, "stroke": "#222", "strokeWidth": 1.5},
                 "encoding": {"x": {"field": "col", "type": "nominal", "sort": null, "scale": {"domain": ["g", "f"], "paddingInner": 0, "paddingOuter": 0}, "axis": null}}},
                {"mark": {"type": "text", "lineBreak": "\n", "fontSize": 10.5, "color": "#333", "lineHeight": 12, "dy": -6},
                 "encoding": {"x": {"field": "col", "type": "nominal", "sort": null, "axis": null}, "text": {"field": "label", "type": "nominal"}}}
              ]},
              {"data": {"name": "d_down"}, "width": 196, "height": 83, "layer": [
                {"mark": {"type": "rect", "fillOpacity": 0, "stroke": "#222", "strokeWidth": 1.5},
                 "encoding": {"x": {"datum": "g", "type": "nominal", "scale": {"domain": ["g", "f"], "paddingInner": 0, "paddingOuter": 0}, "axis": null},
                   "y": {"field": "gene", "type": "nominal", "sort": null, "scale": {"paddingInner": 0, "paddingOuter": 0}, "axis": null}}},
                {"mark": {"type": "rect", "fillOpacity": 0, "stroke": "#222", "strokeWidth": 1.5},
                 "encoding": {"x": {"datum": "f", "type": "nominal"}, "y": {"field": "gene", "type": "nominal", "sort": null}}},
                {"mark": {"type": "text", "align": "left", "dx": 3, "fontSize": 10.5, "color": "#111"},
                 "encoding": {"x": {"datum": "g", "type": "nominal", "bandPosition": 0}, "y": {"field": "gene", "type": "nominal", "sort": null}, "text": {"field": "gene", "type": "nominal"}}},
                {"mark": {"type": "text", "align": "right", "dx": -3, "fontSize": 10.5, "color": "#5b5fb5"},
                 "encoding": {"x": {"datum": "f", "type": "nominal", "bandPosition": 1}, "y": {"field": "gene", "type": "nominal", "sort": null}, "text": {"field": "fold", "type": "quantitative", "format": "~r"}}}
              ]}
            ]}
          ]
        }
      ],
      "spacing": 23
    }
  ],
  "spacing": 24
}
